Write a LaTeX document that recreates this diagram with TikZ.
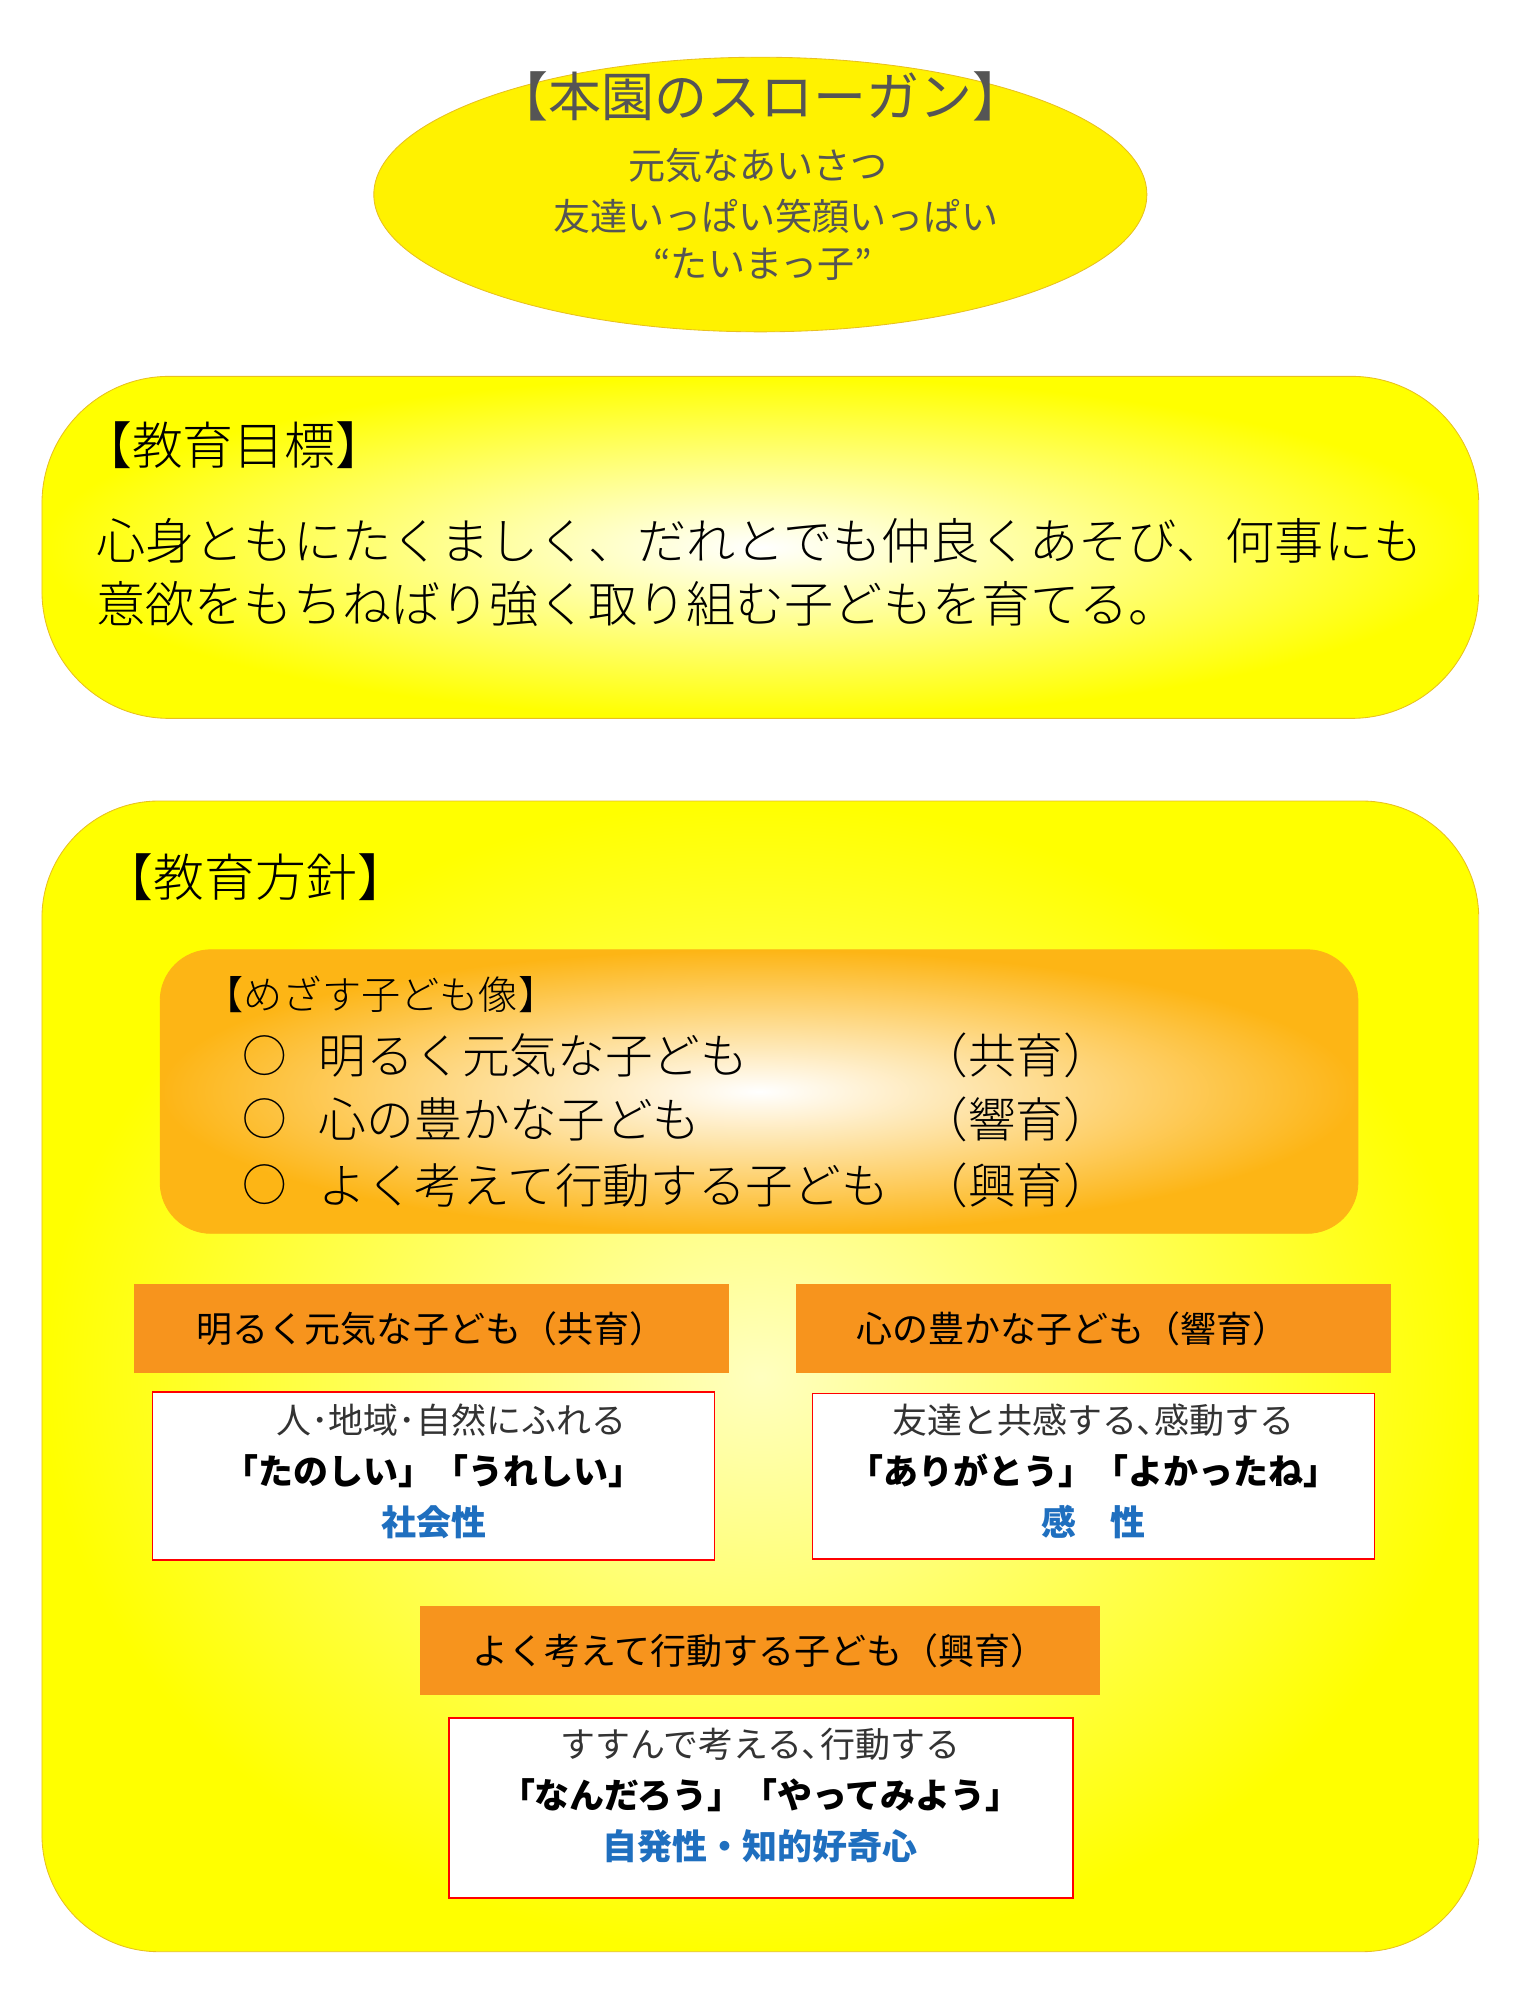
\documentclass[tikz,border=0pt]{standalone}
\usepackage{fontspec}
\setmainfont{Noto Sans CJK JP}
\newfontfamily\jpl{Noto Sans CJK JP Light}
\definecolor{ttxt}{HTML}{555555}
\definecolor{goldb}{HTML}{E8C020}
\definecolor{orhead}{HTML}{F7941D}
\definecolor{blu}{HTML}{1F6FBF}
\definecolor{orb}{HTML}{FDB515}
\begin{document}
\begin{tikzpicture}[x=0.6pt,y=-0.6pt,
  hd/.style={fill=orhead,minimum width=280.8pt,minimum height=42pt,inner sep=0,font=\fontsize{17}{19}\selectfont},
  wb/.style={draw=red,fill=white,line width=0.8pt,inner sep=0},
  t1/.style={font=\fontsize{16.5}{18}\selectfont,text=black!80},
  t2/.style={font=\bfseries\fontsize{16.5}{18}\selectfont},
  t3/.style={font=\bfseries\fontsize{16.5}{18}\selectfont,text=blu}]
\useasboundingbox (0,0) rectangle (1200,1573);
% slogan
\draw[draw=goldb,fill=yellow] (598,153) ellipse [x radius=304,y radius=108];
\node[text=ttxt,font=\fontsize{25}{28}\selectfont] (st) at (598,76) {【本園のスローガン】};
\node[text=ttxt,font=\fontsize{17.5}{18}\selectfont] (s1) at (596,130) {元気なあいさつ};
\node[text=ttxt,font=\fontsize{17.5}{18}\selectfont] (s2) at (610,170) {友達いっぱい笑顔いっぱい};
\node[text=ttxt,font=\fontsize{17.5}{18}\selectfont] (s3) at (600,208) {“たいまっ子”};
% goal
\shade[inner color=white,outer color=yellow,rounded corners=60pt] (33,296) rectangle (1163,565);
\draw[draw=goldb,rounded corners=60pt] (33,296) rectangle (1163,565);
\node[anchor=west,font=\jpl\fontsize{24}{28}\selectfont] (gt) at (58,350) {【教育目標】};
\node[anchor=west,font=\jpl\fontsize{23.2}{30}\selectfont] (g1) at (70,425) {心身ともにたくましく、だれとでも仲良くあそび、何事にも};
\node[anchor=west,font=\jpl\fontsize{23.2}{30}\selectfont] (g2) at (70,475) {意欲をもちねばり強く取り組む子どもを育てる。};
% policy
\shade[inner color=yellow!25,outer color=yellow,rounded corners=55pt] (33,630) rectangle (1163,1535);
\draw[draw=goldb,rounded corners=55pt] (33,630) rectangle (1163,1535);
\node[anchor=west,font=\jpl\fontsize{24}{28}\selectfont] (pt) at (75,690) {【教育方針】};
\shade[inner color=white,outer color=orb,rounded corners=24pt] (126,747) rectangle (1068,970);
\draw[draw=orb,rounded corners=24pt] (126,747) rectangle (1068,970);
\node[anchor=west,font=\jpl\fontsize{18.5}{20}\selectfont] (mt) at (155,782) {【めざす子ども像】};
\foreach \y/\a/\b [count=\i] in {830/明るく元気な子ども/（共育）,880/心の豊かな子ども/（響育）,932/よく考えて行動する子ども/（興育）}{
  \node[font=\jpl\fontsize{21}{22}\selectfont] (c\i) at (208,\y) {○};
  \node[anchor=west,font=\jpl\fontsize{22.5}{24}\selectfont] (a\i) at (245,\y) {\a};
  \node[anchor=west,font=\jpl\fontsize{22.5}{24}\selectfont] (b\i) at (718,\y) {\b};
}
% headers
\node[hd] (h1) at (339,1045) {明るく元気な子ども（共育）};
\node[hd] (h2) at (860,1045) {\hspace*{-20pt}心の豊かな子ども（響育）};
\node[hd,minimum width=321pt] (h3) at (597.5,1298) {よく考えて行動する子ども（興育）};
% boxes
\node[wb,minimum width=265.2pt,minimum height=79.2pt] (w1) at (341,1161) {};
\node[t1] at (355,1117) {人･地域･自然にふれる};
\node[t2] at (341,1157) {「たのしい」「うれしい」};
\node[t3] at (341,1197) {社会性};
\node[wb,minimum width=265.2pt,minimum height=78pt] (w2) at (860,1161) {};
\node[t1] at (860,1117) {友達と共感する､感動する};
\node[t2] at (860,1157) {「ありがとう」「よかったね」};
\node[t3] at (860,1197) {感\quad 性};
\node[wb,minimum width=294.6pt,minimum height=85.2pt] (w3) at (598.5,1422) {};
\node[t1] at (598,1372) {すすんで考える､行動する};
\node[t2] at (598,1412) {「なんだろう」「やってみよう」};
\node[t3] at (598,1452) {自発性・知的好奇心};
\end{tikzpicture}
\end{document}
